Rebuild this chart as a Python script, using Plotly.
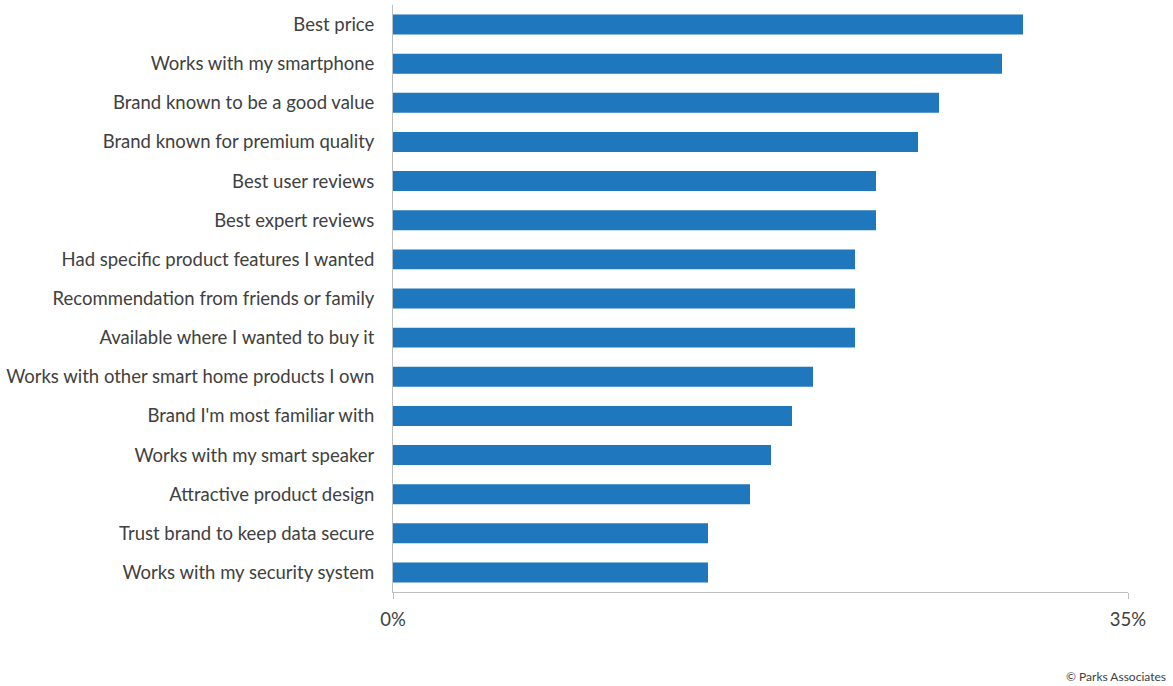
import plotly.graph_objects as go

categories = [
    "Best price",
    "Works with my smartphone",
    "Brand known to be a good value",
    "Brand known for premium quality",
    "Best user reviews",
    "Best expert reviews",
    "Had specific product features I wanted",
    "Recommendation from friends or family",
    "Available where I wanted to buy it",
    "Works with other smart home products I own",
    "Brand I'm most familiar with",
    "Works with my smart speaker",
    "Attractive product design",
    "Trust brand to keep data secure",
    "Works with my security system",
]
values = [30, 29, 26, 25, 23, 23, 22, 22, 22, 20, 19, 18, 17, 15, 15]
tick_vals = [0, 35]
tick_text = ["0%", "35%"]

font_family = "Lato, Carlito, Calibri, 'Open Sans', sans-serif"

fig = go.Figure(go.Bar(
    x=values,
    y=categories,
    orientation="h",
    marker=dict(color="#1f77bd", line=dict(width=0)),
    hoverinfo="x+y",
))

fig.update_layout(
    width=1173,
    height=686,
    margin=dict(l=393, r=45, t=5, b=94),
    plot_bgcolor="white",
    paper_bgcolor="white",
    bargap=0.49,
    showlegend=False,
    font=dict(family=font_family, size=18.5, color="#404040"),
    xaxis=dict(
        range=[0, 35],
        tickvals=tick_vals,
        ticktext=tick_text,
        showgrid=False,
        zeroline=False,
        showline=True,
        linecolor="#bfbfbf",
        linewidth=1,
        ticks="outside",
        ticklen=6,
        tickcolor="#bfbfbf",
        tickfont=dict(size=18.5, color="#404040"),
        ticklabelstandoff=5,
    ),
    yaxis=dict(
        autorange="reversed",
        showgrid=False,
        zeroline=False,
        showline=True,
        linecolor="#bfbfbf",
        linewidth=1,
        ticks="",
        tickfont=dict(size=18.5, color="#404040"),
        ticklabelstandoff=14,
    ),
    annotations=[
        dict(
            text="© Parks Associates",
            xref="paper", yref="paper",
            x=1.0, y=0,
            xanchor="right", yanchor="middle",
            xshift=40, yshift=-84,
            showarrow=False,
            font=dict(size=12, color="#404040", family=font_family),
        )
    ],
)

fig.write_html("out.html")
